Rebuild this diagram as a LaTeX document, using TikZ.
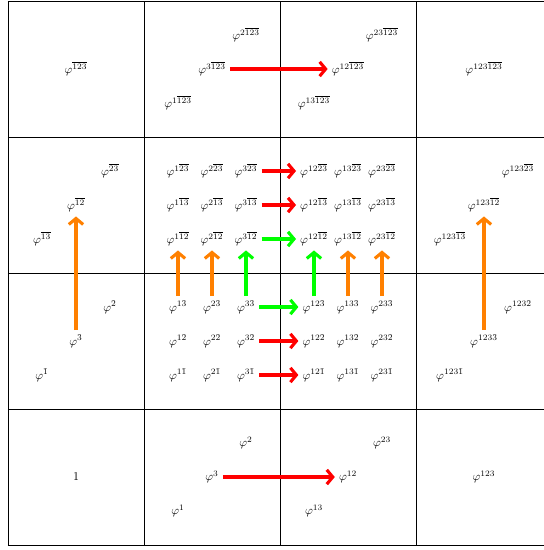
\documentclass[tikz,border=0pt]{standalone}
\usepackage{tikz}
\usetikzlibrary{calc}
\usetikzlibrary{arrows.meta}
\usetikzlibrary{positioning}
\tikzset{connect/.style={draw, line width=2.6pt, >={Straight Barb[length=5pt,width=12pt]}}}

\begin{document}
\begin{tikzpicture}

\useasboundingbox (-0.235,-0.147) rectangle (15.765,16.03);
\draw (0,0) grid[step=4cm] (16,16);

% bottom row
\node (one) at (2,2) {$1$};
\node (n3) at (6,2) {$\varphi^{3}$};
\node (n2) at ([xshift=1cm,yshift=1cm]n3) {$\varphi^{2}$};
\node (n1) at ([xshift=-1cm,yshift=-1cm]n3) {$\varphi^{1}$};
\node (n12) at ([xshift=4cm]n3) {$\varphi^{12}$};
\node (n23) at ([xshift=1cm,yshift=1cm]n12) {$\varphi^{23}$};
\node (n13) at ([xshift=-1cm,yshift=-1cm]n12) {$\varphi^{13}$};
\node (n123) at ([xshift=4cm]n12) {$\varphi^{123}$};

% top row
\node (nb123) at (2,14) {$\varphi^{\overline{123}}$};
\node (n3b123) at (6,14) {$\varphi^{3\overline{123}}$};
\node (n2b123) at ([xshift=1cm,yshift=1cm]n3b123) {$\varphi^{2\overline{123}}$};
\node (n1b123) at ([xshift=-1cm,yshift=-1cm]n3b123) {$\varphi^{1\overline{123}}$};
\node (n12b123) at ([xshift=4cm]n3b123) {$\varphi^{12\overline{123}}$};
\node (n23b123) at ([xshift=1cm,yshift=1cm]n12b123) {$\varphi^{23\overline{123}}$};
\node (n13b123) at ([xshift=-1cm,yshift=-1cm]n12b123) {$\varphi^{13\overline{123}}$};
\node (n123b123) at ([xshift=4cm]n12b123) {$\varphi^{123\overline{123}}$};

% second row from top
\node (nb12) at (2,10) {$\varphi^{\overline{12}}$};
\node (nb23) at ([xshift=1cm,yshift=1cm]nb12) {$\varphi^{\overline{23}}$};
\node (nb13) at ([xshift=-1cm,yshift=-1cm]nb12) {$\varphi^{\overline{13}}$};

\node (n1b23) at (5,11) {$\varphi^{1\overline{23}}$};
\node (n2b23) at (6,11) {$\varphi^{2\overline{23}}$};
\node (n3b23) at (7,11) {$\varphi^{3\overline{23}}$};
\node (n1b13) at (5,10) {$\varphi^{1\overline{13}}$};
\node (n2b13) at (6,10) {$\varphi^{2\overline{13}}$};
\node (n3b13) at (7,10) {$\varphi^{3\overline{13}}$};
\node (n1b12) at (5,9) {$\varphi^{1\overline{12}}$};
\node (n2b12) at (6,9) {$\varphi^{2\overline{12}}$};
\node (n3b12) at (7,9) {$\varphi^{3\overline{12}}$};

\node (n12b23) at (9,11) {$\varphi^{12\overline{23}}$};
\node (n13b23) at (10,11) {$\varphi^{13\overline{23}}$};
\node (n23b23) at (11,11) {$\varphi^{23\overline{23}}$};
\node (n12b13) at (9,10) {$\varphi^{12\overline{13}}$};
\node (n13b13) at (10,10) {$\varphi^{13\overline{13}}$};
\node (n23b13) at (11,10) {$\varphi^{23\overline{13}}$};
\node (n12b12) at (9,9) {$\varphi^{12\overline{12}}$};
\node (n13b12) at (10,9) {$\varphi^{13\overline{12}}$};
\node (n23b12) at (11,9) {$\varphi^{23\overline{12}}$};

\node (n123b12) at (14,10) {$\varphi^{123\overline{12}}$};
\node (n123b23) at ([xshift=1cm,yshift=1cm]n123b12) {$\varphi^{123\overline{23}}$};
\node (n123b13) at ([xshift=-1cm,yshift=-1cm]n123b12) {$\varphi^{123\overline{13}}$};

% third row from top
\node (nb3) at (2,6) {$\varphi^{\bar{3}}$};
\node (nb2) at ([xshift=1cm,yshift=1cm]nb3) {$\varphi^{\bar{2}}$};
\node (nb1) at ([xshift=-1cm,yshift=-1cm]nb3) {$\varphi^{\bar{1}}$};

\node (n1b3) at (5,7) {$\varphi^{1\bar{3}}$};
\node (n2b3) at (6,7) {$\varphi^{2\bar{3}}$};
\node (n3b3) at (7,7) {$\varphi^{3\bar{3}}$};
\node (n1b2) at (5,6) {$\varphi^{1\bar{2}}$};
\node (n2b2) at (6,6) {$\varphi^{2\bar{2}}$};
\node (n3b2) at (7,6) {$\varphi^{3\bar{2}}$};
\node (n1b1) at (5,5) {$\varphi^{1\bar{1}}$};
\node (n2b1) at (6,5) {$\varphi^{2\bar{1}}$};
\node (n3b1) at (7,5) {$\varphi^{3\bar{1}}$};

\node (n12b3) at (9,7) {$\varphi^{12\bar{3}}$};
\node (n13b3) at (10,7) {$\varphi^{13\bar{3}}$};
\node (n23b3) at (11,7) {$\varphi^{23\bar{3}}$};
\node (n12b2) at (9,6) {$\varphi^{12\bar{2}}$};
\node (n13b2) at (10,6) {$\varphi^{13\bar{2}}$};
\node (n23b2) at (11,6) {$\varphi^{23\bar{2}}$};
\node (n12b1) at (9,5) {$\varphi^{12\bar{1}}$};
\node (n13b1) at (10,5) {$\varphi^{13\bar{1}}$};
\node (n23b1) at (11,5) {$\varphi^{23\bar{1}}$};

\node (n123b3) at (14,6) {$\varphi^{123\bar{3}}$};
\node (n123b2) at ([xshift=1cm,yshift=1cm]n123b3) {$\varphi^{123\bar{2}}$};
\node (n123b1) at ([xshift=-1cm,yshift=-1cm]n123b3) {$\varphi^{123\bar{1}}$};

% arrows
\path[connect,->,red] (n3b123) -- (n12b123);
\path[connect,->,red] (n3) -- (n12);
\path[connect,->,red] (n3b23) -- (n12b23);
\path[connect,->,red] (n3b13) -- (n12b13);
\path[connect,->,green] (n3b12) -- (n12b12);
\path[connect,->,green] (n3b3) -- (n12b3);
\path[connect,->,red] (n3b2) -- (n12b2);
\path[connect,->,red] (n3b1) -- (n12b1);

\path[connect,->,orange] (nb3) -- (nb12);
\path[connect,->,orange] (n1b3) -- (n1b12);
\path[connect,->,orange] (n2b3) -- (n2b12);
\path[connect,->,green] (n3b3) -- (n3b12);
\path[connect,->,green] (n12b3) -- (n12b12);
\path[connect,->,orange] (n13b3) -- (n13b12);
\path[connect,->,orange] (n23b3) -- (n23b12);
\path[connect,->,orange] (n123b3) -- (n123b12);

\end{tikzpicture}
\end{document}
